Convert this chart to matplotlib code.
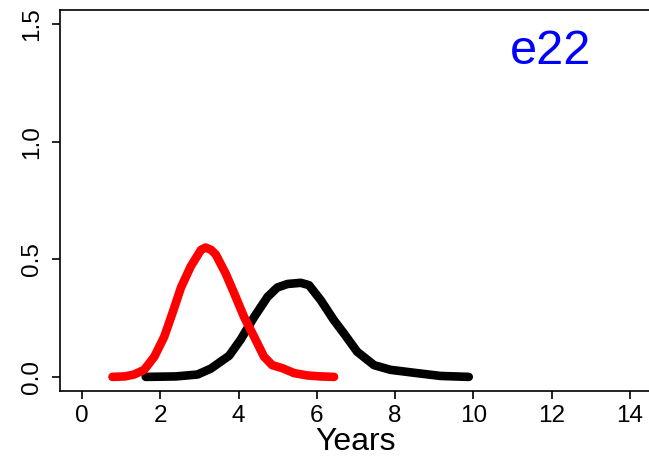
import matplotlib
matplotlib.use("Agg")
import matplotlib.pyplot as plt

plt.rcParams["font.family"] = ["Liberation Sans", "DejaVu Sans"]

# courbe rouge
red_x = [0.78, 1.10, 1.33, 1.59, 1.85, 2.10, 2.31, 2.53, 2.78, 3.04, 3.16,
         3.30, 3.42, 3.67, 3.89, 4.14, 4.40, 4.65, 4.86, 5.12, 5.42, 5.76,
         6.10, 6.44]
red_y = [0.0, 0.002, 0.01, 0.03, 0.086, 0.17, 0.27, 0.38, 0.47, 0.54, 0.55,
         0.54, 0.52, 0.44, 0.355, 0.255, 0.17, 0.086, 0.05, 0.037, 0.016,
         0.006, 0.002, 0.0]

# courbe noire
black_x = [1.63, 2.40, 2.95, 3.29, 3.76, 4.06, 4.40, 4.74, 4.99, 5.25, 5.59,
           5.80, 6.10, 6.44, 6.69, 7.03, 7.46, 7.88, 8.56, 9.16, 9.88]
black_y = [0.0, 0.002, 0.01, 0.035, 0.09, 0.16, 0.255, 0.34, 0.38, 0.395,
           0.40, 0.39, 0.326, 0.24, 0.185, 0.107, 0.05, 0.03, 0.016, 0.004,
           0.0]

xticks = [0, 2, 4, 6, 8, 10, 12, 14]
yticks = [0.0, 0.5, 1.0, 1.5]
ytick_labels = ["0.0", "0.5", "1.0", "1.5"]

fig = plt.figure(figsize=(6.49, 4.61), dpi=100)
ax = fig.add_axes([60 / 649, 70 / 461, 592 / 649, 381 / 461])

ax.plot(black_x, black_y, color="black", lw=6.2, solid_capstyle="round",
        solid_joinstyle="round")
ax.plot(red_x, red_y, color="red", lw=6.2, solid_capstyle="round",
        solid_joinstyle="round")

ax.set_xlim(-0.56, 14.56)
ax.set_ylim(-0.06, 1.56)
ax.set_xticks(xticks)
ax.set_yticks(yticks)
ax.set_yticklabels(ytick_labels, rotation=90, va="center")

for s in ax.spines.values():
    s.set_linewidth(1.2)
ax.tick_params(axis="both", length=6, width=1.2, labelsize=17.5)
ax.tick_params(axis="x", pad=4)
ax.tick_params(axis="y", pad=6)

ax.set_xlabel("Years", fontsize=23, labelpad=0)
ax.text(11.96, 1.385, "e22", color="blue", fontsize=35, ha="center", va="center")

fig.savefig("out.png", dpi=100)
